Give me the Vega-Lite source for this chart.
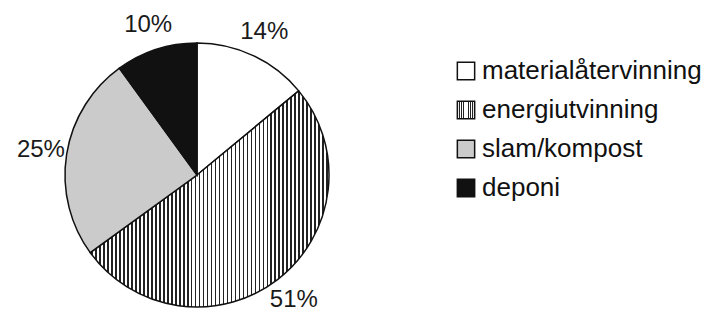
{
  "$schema": "https://vega.github.io/schema/vega-lite/v6.json",
  "width": 264,
  "height": 264,
  "autosize": {"type": "none"},
  "padding": {"left": 65, "top": 43, "right": 379, "bottom": 6},
  "background": "white",
  "data": {"values": [
    {"kategori": "materialåtervinning", "value": 14, "label": "14%", "idx": 1},
    {"kategori": "energiutvinning", "value": 51, "label": "51%", "idx": 2},
    {"kategori": "slam/kompost", "value": 25, "label": "25%", "idx": 3},
    {"kategori": "deponi", "value": 10, "label": "10%", "idx": 4}
  ]},
  "encoding": {
    "theta": {"field": "value", "type": "quantitative", "stack": true},
    "order": {"field": "idx", "type": "quantitative"}
  },
  "layer": [
    {
      "mark": {"type": "arc", "outerRadius": 132, "stroke": "#111", "strokeWidth": 1.5},
      "encoding": {
        "fill": {
          "field": "kategori",
          "type": "nominal",
          "scale": {
            "domain": ["materialåtervinning", "energiutvinning", "slam/kompost", "deponi"],
            "range": [
              "#ffffff",
              {"expr": "{gradient:'linear',x1:0,y1:0,x2:1,y2:0,stops:[{offset:0,color:'#fff'},{offset:0.0050,color:'#fff'},{offset:0.0050,color:'#222'},{offset:0.0117,color:'#222'},{offset:0.0117,color:'#fff'},{offset:0.0217,color:'#fff'},{offset:0.0217,color:'#222'},{offset:0.0283,color:'#222'},{offset:0.0283,color:'#fff'},{offset:0.0383,color:'#fff'},{offset:0.0383,color:'#222'},{offset:0.0450,color:'#222'},{offset:0.0450,color:'#fff'},{offset:0.0550,color:'#fff'},{offset:0.0550,color:'#222'},{offset:0.0617,color:'#222'},{offset:0.0617,color:'#fff'},{offset:0.0717,color:'#fff'},{offset:0.0717,color:'#222'},{offset:0.0783,color:'#222'},{offset:0.0783,color:'#fff'},{offset:0.0883,color:'#fff'},{offset:0.0883,color:'#222'},{offset:0.0950,color:'#222'},{offset:0.0950,color:'#fff'},{offset:0.1050,color:'#fff'},{offset:0.1050,color:'#222'},{offset:0.1117,color:'#222'},{offset:0.1117,color:'#fff'},{offset:0.1217,color:'#fff'},{offset:0.1217,color:'#222'},{offset:0.1283,color:'#222'},{offset:0.1283,color:'#fff'},{offset:0.1383,color:'#fff'},{offset:0.1383,color:'#222'},{offset:0.1450,color:'#222'},{offset:0.1450,color:'#fff'},{offset:0.1550,color:'#fff'},{offset:0.1550,color:'#222'},{offset:0.1617,color:'#222'},{offset:0.1617,color:'#fff'},{offset:0.1717,color:'#fff'},{offset:0.1717,color:'#222'},{offset:0.1783,color:'#222'},{offset:0.1783,color:'#fff'},{offset:0.1883,color:'#fff'},{offset:0.1883,color:'#222'},{offset:0.1950,color:'#222'},{offset:0.1950,color:'#fff'},{offset:0.2050,color:'#fff'},{offset:0.2050,color:'#222'},{offset:0.2117,color:'#222'},{offset:0.2117,color:'#fff'},{offset:0.2217,color:'#fff'},{offset:0.2217,color:'#222'},{offset:0.2283,color:'#222'},{offset:0.2283,color:'#fff'},{offset:0.2383,color:'#fff'},{offset:0.2383,color:'#222'},{offset:0.2450,color:'#222'},{offset:0.2450,color:'#fff'},{offset:0.2550,color:'#fff'},{offset:0.2550,color:'#222'},{offset:0.2617,color:'#222'},{offset:0.2617,color:'#fff'},{offset:0.2717,color:'#fff'},{offset:0.2717,color:'#222'},{offset:0.2783,color:'#222'},{offset:0.2783,color:'#fff'},{offset:0.2883,color:'#fff'},{offset:0.2883,color:'#222'},{offset:0.2950,color:'#222'},{offset:0.2950,color:'#fff'},{offset:0.3050,color:'#fff'},{offset:0.3050,color:'#222'},{offset:0.3117,color:'#222'},{offset:0.3117,color:'#fff'},{offset:0.3217,color:'#fff'},{offset:0.3217,color:'#222'},{offset:0.3283,color:'#222'},{offset:0.3283,color:'#fff'},{offset:0.3383,color:'#fff'},{offset:0.3383,color:'#222'},{offset:0.3450,color:'#222'},{offset:0.3450,color:'#fff'},{offset:0.3550,color:'#fff'},{offset:0.3550,color:'#222'},{offset:0.3617,color:'#222'},{offset:0.3617,color:'#fff'},{offset:0.3717,color:'#fff'},{offset:0.3717,color:'#222'},{offset:0.3783,color:'#222'},{offset:0.3783,color:'#fff'},{offset:0.3883,color:'#fff'},{offset:0.3883,color:'#222'},{offset:0.3950,color:'#222'},{offset:0.3950,color:'#fff'},{offset:0.4050,color:'#fff'},{offset:0.4050,color:'#222'},{offset:0.4117,color:'#222'},{offset:0.4117,color:'#fff'},{offset:0.4217,color:'#fff'},{offset:0.4217,color:'#222'},{offset:0.4283,color:'#222'},{offset:0.4283,color:'#fff'},{offset:0.4383,color:'#fff'},{offset:0.4383,color:'#222'},{offset:0.4450,color:'#222'},{offset:0.4450,color:'#fff'},{offset:0.4550,color:'#fff'},{offset:0.4550,color:'#222'},{offset:0.4617,color:'#222'},{offset:0.4617,color:'#fff'},{offset:0.4717,color:'#fff'},{offset:0.4717,color:'#222'},{offset:0.4783,color:'#222'},{offset:0.4783,color:'#fff'},{offset:0.4883,color:'#fff'},{offset:0.4883,color:'#222'},{offset:0.4950,color:'#222'},{offset:0.4950,color:'#fff'},{offset:0.5050,color:'#fff'},{offset:0.5050,color:'#222'},{offset:0.5117,color:'#222'},{offset:0.5117,color:'#fff'},{offset:0.5217,color:'#fff'},{offset:0.5217,color:'#222'},{offset:0.5283,color:'#222'},{offset:0.5283,color:'#fff'},{offset:0.5383,color:'#fff'},{offset:0.5383,color:'#222'},{offset:0.5450,color:'#222'},{offset:0.5450,color:'#fff'},{offset:0.5550,color:'#fff'},{offset:0.5550,color:'#222'},{offset:0.5617,color:'#222'},{offset:0.5617,color:'#fff'},{offset:0.5717,color:'#fff'},{offset:0.5717,color:'#222'},{offset:0.5783,color:'#222'},{offset:0.5783,color:'#fff'},{offset:0.5883,color:'#fff'},{offset:0.5883,color:'#222'},{offset:0.5950,color:'#222'},{offset:0.5950,color:'#fff'},{offset:0.6050,color:'#fff'},{offset:0.6050,color:'#222'},{offset:0.6117,color:'#222'},{offset:0.6117,color:'#fff'},{offset:0.6217,color:'#fff'},{offset:0.6217,color:'#222'},{offset:0.6283,color:'#222'},{offset:0.6283,color:'#fff'},{offset:0.6383,color:'#fff'},{offset:0.6383,color:'#222'},{offset:0.6450,color:'#222'},{offset:0.6450,color:'#fff'},{offset:0.6550,color:'#fff'},{offset:0.6550,color:'#222'},{offset:0.6617,color:'#222'},{offset:0.6617,color:'#fff'},{offset:0.6717,color:'#fff'},{offset:0.6717,color:'#222'},{offset:0.6783,color:'#222'},{offset:0.6783,color:'#fff'},{offset:0.6883,color:'#fff'},{offset:0.6883,color:'#222'},{offset:0.6950,color:'#222'},{offset:0.6950,color:'#fff'},{offset:0.7050,color:'#fff'},{offset:0.7050,color:'#222'},{offset:0.7117,color:'#222'},{offset:0.7117,color:'#fff'},{offset:0.7217,color:'#fff'},{offset:0.7217,color:'#222'},{offset:0.7283,color:'#222'},{offset:0.7283,color:'#fff'},{offset:0.7383,color:'#fff'},{offset:0.7383,color:'#222'},{offset:0.7450,color:'#222'},{offset:0.7450,color:'#fff'},{offset:0.7550,color:'#fff'},{offset:0.7550,color:'#222'},{offset:0.7617,color:'#222'},{offset:0.7617,color:'#fff'},{offset:0.7717,color:'#fff'},{offset:0.7717,color:'#222'},{offset:0.7783,color:'#222'},{offset:0.7783,color:'#fff'},{offset:0.7883,color:'#fff'},{offset:0.7883,color:'#222'},{offset:0.7950,color:'#222'},{offset:0.7950,color:'#fff'},{offset:0.8050,color:'#fff'},{offset:0.8050,color:'#222'},{offset:0.8117,color:'#222'},{offset:0.8117,color:'#fff'},{offset:0.8217,color:'#fff'},{offset:0.8217,color:'#222'},{offset:0.8283,color:'#222'},{offset:0.8283,color:'#fff'},{offset:0.8383,color:'#fff'},{offset:0.8383,color:'#222'},{offset:0.8450,color:'#222'},{offset:0.8450,color:'#fff'},{offset:0.8550,color:'#fff'},{offset:0.8550,color:'#222'},{offset:0.8617,color:'#222'},{offset:0.8617,color:'#fff'},{offset:0.8717,color:'#fff'},{offset:0.8717,color:'#222'},{offset:0.8783,color:'#222'},{offset:0.8783,color:'#fff'},{offset:0.8883,color:'#fff'},{offset:0.8883,color:'#222'},{offset:0.8950,color:'#222'},{offset:0.8950,color:'#fff'},{offset:0.9050,color:'#fff'},{offset:0.9050,color:'#222'},{offset:0.9117,color:'#222'},{offset:0.9117,color:'#fff'},{offset:0.9217,color:'#fff'},{offset:0.9217,color:'#222'},{offset:0.9283,color:'#222'},{offset:0.9283,color:'#fff'},{offset:0.9383,color:'#fff'},{offset:0.9383,color:'#222'},{offset:0.9450,color:'#222'},{offset:0.9450,color:'#fff'},{offset:0.9550,color:'#fff'},{offset:0.9550,color:'#222'},{offset:0.9617,color:'#222'},{offset:0.9617,color:'#fff'},{offset:0.9717,color:'#fff'},{offset:0.9717,color:'#222'},{offset:0.9783,color:'#222'},{offset:0.9783,color:'#fff'},{offset:0.9883,color:'#fff'},{offset:0.9883,color:'#222'},{offset:0.9950,color:'#222'},{offset:0.9950,color:'#fff'},{offset:1,color:'#fff'}]}"},
              "#cbcbcb",
              "#111111"
            ]
          },
          "legend": {
            "title": null,
            "orient": "none",
            "legendX": 388,
            "legendY": 15,
            "symbolType": "square",
            "symbolSize": 300,
            "symbolStrokeColor": "#111",
            "symbolStrokeWidth": 1.5,
            "labelFont": "Liberation Sans",
            "labelFontSize": 26,
            "labelColor": "#111",
            "labelOffset": 3,
            "labelLimit": 400,
            "rowPadding": 13
          }
        }
      }
    },
    {
      "mark": {"type": "text", "radius": 158, "font": "Liberation Sans", "fontSize": 24, "fill": "#1a1a1a"},
      "encoding": {"text": {"field": "label", "type": "nominal"}}
    }
  ],
  "config": {"view": {"stroke": null}}
}
